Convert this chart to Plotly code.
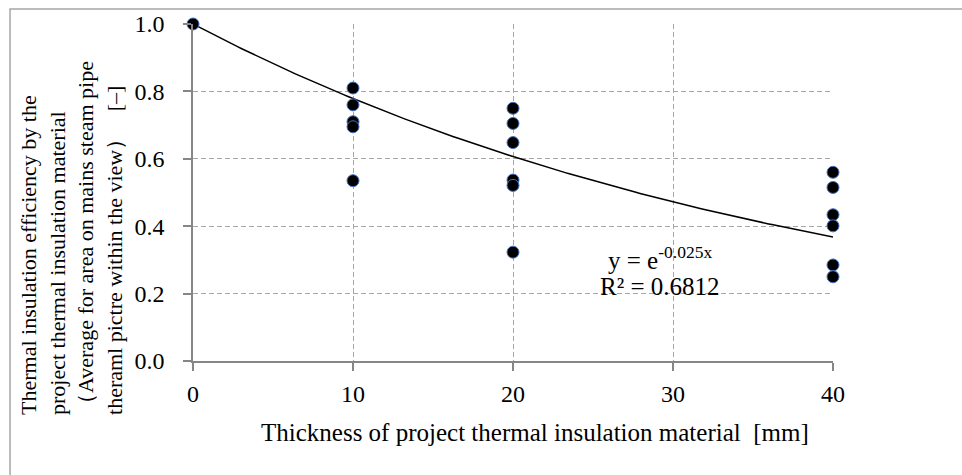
import numpy as np
import plotly.graph_objects as go

# ---- data ----
thickness_mm = [0, 10, 10, 10, 10, 10, 20, 20, 20, 20, 20, 20, 40, 40, 40, 40, 40, 40]
efficiency = [1.0, 0.81, 0.76, 0.71, 0.695, 0.535,
              0.75, 0.705, 0.648, 0.537, 0.521, 0.323,
              0.560, 0.515, 0.434, 0.401, 0.285, 0.250]
trend_coef = -0.025
r_squared = 0.6812
x_ticks = [0, 10, 20, 30, 40]
y_ticks = [0.0, 0.2, 0.4, 0.6, 0.8, 1.0]

FONT = "Liberation Serif"
GRID = "#A6A6A6"
AXIS = "#868686"

trend_x = np.linspace(0, 40, 200)
trend_y = np.exp(trend_coef * trend_x)

fig = go.Figure()
fig.add_trace(go.Scatter(x=trend_x, y=trend_y, mode="lines",
                         line=dict(color="black", width=1.5),
                         hoverinfo="skip", showlegend=False, cliponaxis=False))
fig.add_trace(go.Scatter(x=thickness_mm, y=efficiency, mode="markers",
                         marker=dict(size=12, color="black",
                                     line=dict(color="#4472C4", width=1)),
                         showlegend=False, cliponaxis=False))

fig.update_layout(
    width=962, height=475,
    margin=dict(l=193, r=129, t=24, b=114),
    paper_bgcolor="white", plot_bgcolor="white",
    font=dict(family=FONT, color="black", size=24),
    xaxis=dict(range=[0, 40], tickvals=x_ticks, ticktext=[str(v) for v in x_ticks],
               showgrid=True, gridcolor=GRID, griddash="5px,3px", gridwidth=1,
               showline=True, linecolor=AXIS, linewidth=1.5,
               ticks="outside", ticklen=8, tickcolor=AXIS, tickwidth=1.5,
               tickfont=dict(family=FONT, size=24), zeroline=False, ticklabelstandoff=2),
    yaxis=dict(range=[0, 1], tickvals=y_ticks, ticktext=[f"{v:.1f}" for v in y_ticks],
               showgrid=True, gridcolor=GRID, griddash="5px,3px", gridwidth=1,
               showline=True, linecolor=AXIS, linewidth=1.5,
               ticks="outside", ticklen=8, tickcolor=AXIS, tickwidth=1.5,
               tickfont=dict(family=FONT, size=24), zeroline=False, ticklabelstandoff=14),
)

# outer chart border (left/top visible)
fig.add_shape(type="rect", xref="paper", yref="paper",
              x0=-0.2859, x1=1.4, y0=-0.6, y1=1.0445,
              line=dict(color="#A6A6A6", width=1.5), layer="below")

# axis titles as annotations
fig.add_annotation(xref="paper", yref="paper", x=0.534, y=-0.2136,
                   text="Thickness of project thermal insulation material\u00a0\u00a0[mm]",
                   showarrow=False, xanchor="center", yanchor="middle",
                   font=dict(family=FONT, size=25))
fig.add_annotation(xref="paper", yref="paper", x=-0.189, y=-0.166,
                   text=("Thermal insulation efficiency by the<br>"
                         "project thermal insulation material<br>"
                         "\uff08Average for area on mains steam pipe<br>"
                         "theraml pictre within the view\uff09\u00a0\u00a0\u00a0[\u2013]"),
                   textangle=-90, align="left", showarrow=False,
                   xanchor="center", yanchor="bottom",
                   font=dict(family=FONT, size=22))

# trendline equation
fig.add_annotation(x=29.2, y=0.306, text=f"y = e<sup>{trend_coef}x</sup>",
                   showarrow=False, font=dict(family=FONT, size=25))
fig.add_annotation(x=29.2, y=0.220, text=f"R² = {r_squared}",
                   showarrow=False, font=dict(family=FONT, size=25))

fig.write_html("out.html")
